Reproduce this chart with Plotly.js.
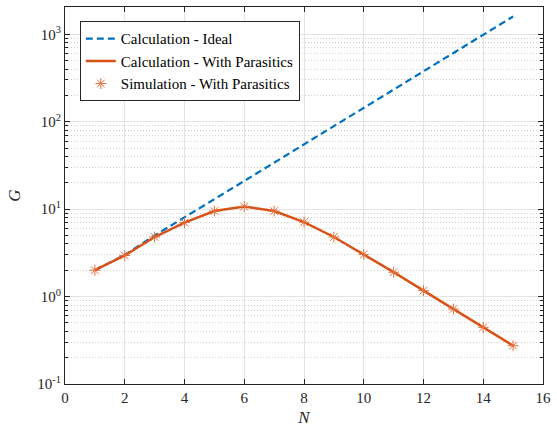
<!DOCTYPE html>
<html>
<head>
<meta charset="utf-8">
<script src="https://cdn.plot.ly/plotly-3.0.1.min.js"></script>
<style>html,body{margin:0;padding:0;background:#fff;}#chart{width:557px;height:428px;}</style>
</head>
<body>
<div id="chart"></div>
<script>
const N = [1,2,3,4,5,6,7,8,9,10,11,12,13,14,15];
const idealG = [2,3,5,8,13,21,34,55,89,144,233,377,610,987,1597];
const calcParasiticG = [2.0,2.95,4.8,7.0,9.5,10.7,9.5,7.1,4.8,3.03,1.9,1.17,0.72,0.445,0.274];
const simParasiticG = [2.0,2.95,4.8,7.0,9.5,10.7,9.5,7.1,4.8,3.03,1.9,1.17,0.72,0.445,0.274];
const yTickVals = [0.1,1,10,100,1000];
const yTickText = ['10<sup>-1</sup>','10<sup>0</sup>','10<sup>1</sup>','10<sup>2</sup>','10<sup>3</sup>'];
const xTickVals = [0,2,4,6,8,10,12,14,16];

const font = 'Liberation Serif, Times New Roman, serif';
const axisColor = '#262626';

const traces = [
  {x:N, y:idealG, type:'scatter', mode:'lines', name:'Calculation - Ideal',
   line:{color:'#0072BD', width:2.2, dash:'7px,4px'}},
  {x:N, y:calcParasiticG, type:'scatter', mode:'lines', name:'Calculation - With Parasitics',
   line:{color:'#D95319', width:2.5}},
  {x:N, y:simParasiticG, type:'scatter', mode:'markers', name:'Simulation - With Parasitics',
   marker:{symbol:'asterisk-open', size:9, color:'#E0703C', line:{color:'#E0703C', width:1}}}
];

const layout = {
  width:557, height:428,
  margin:{l:65, r:14, t:7, b:44},
  paper_bgcolor:'#fff', plot_bgcolor:'#fff',
  font:{family:font, size:14, color:axisColor},
  showlegend:true,
  legend:{x:0.031, y:0.962, xanchor:'left', yanchor:'top', bgcolor:'#fff',
    bordercolor:axisColor, borderwidth:1, font:{family:font, size:15, color:'#000'},
    tracegroupgap:0, itemwidth:30},
  xaxis:{range:[0,16], tickvals:xTickVals, ticks:'inside', ticklen:5, tickcolor:axisColor,
    showline:true, linecolor:axisColor, linewidth:1, mirror:'ticks',
    showgrid:true, gridcolor:'#e3e3e3', gridwidth:1, zeroline:false,
    tickfont:{family:font, size:15, color:axisColor},
    title:{text:'<i>N</i>', font:{family:font, size:17, color:axisColor}, standoff:6}},
  yaxis:{type:'log', range:[-1, Math.log10(2050)], tickvals:yTickVals, ticktext:yTickText,
    ticks:'inside', ticklen:5, tickcolor:axisColor,
    showline:true, linecolor:axisColor, linewidth:1, mirror:'ticks',
    showgrid:true, gridcolor:'#e3e3e3', gridwidth:1, zeroline:false,
    minor:{dtick:'D1', showgrid:true, gridcolor:'#cfcfcf', griddash:'1px,2px', gridwidth:1,
      ticks:'inside', ticklen:3, tickcolor:axisColor},
    tickfont:{family:font, size:15, color:axisColor},
    title:{text:'<i>G</i>', font:{family:font, size:17, color:axisColor}, standoff:12}}
};

Plotly.newPlot('chart', traces, layout, {displayModeBar:false, staticPlot:true});
</script>
</body>
</html>
